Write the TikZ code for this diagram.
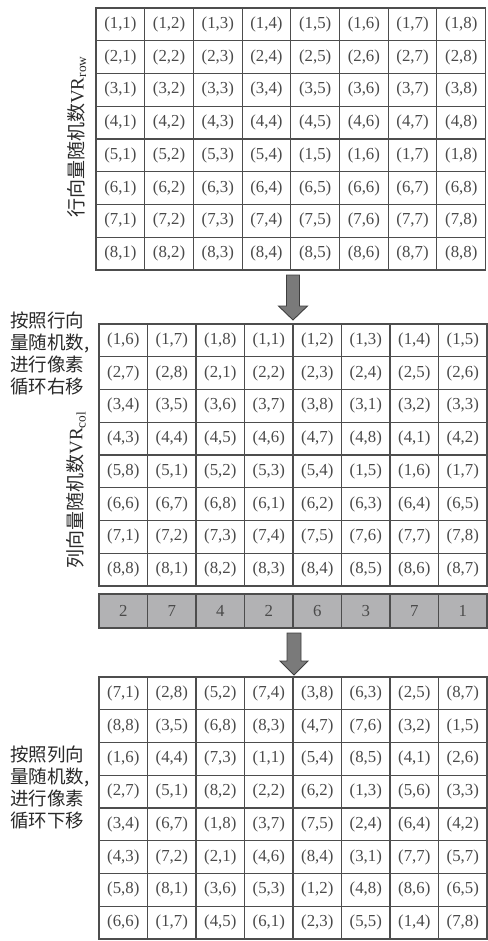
\documentclass[tikz,border=0pt]{standalone}
\usepackage{fontspec}
\setmainfont{Liberation Serif}
\newfontfamily\cjk{Noto Sans CJK SC}
\definecolor{gridline}{HTML}{4D4D4D}
\definecolor{celltext}{HTML}{4A4A4A}
\definecolor{numfill}{HTML}{B2B2B4}
\definecolor{arrowfill}{HTML}{7A7A7A}
\definecolor{labeltext}{HTML}{2A2A2A}
\begin{document}
\begin{tikzpicture}[x=1pt,y=-1pt,
  cell/.style={draw=gridline, line width=1.1pt, inner sep=0pt, outer sep=0pt,
    text=celltext, font=\fontsize{16.8}{17}\selectfont},
  numcell/.style={cell, fill=numfill},
  frame/.style={draw=gridline, line width=1.6pt},
  blockarrow/.style={draw=gridline!80!black, fill=arrowfill, line width=0.9pt, line join=miter},
  vlabel/.style={rotate=90, text=labeltext, inner sep=0pt, font=\fontsize{19}{19}\selectfont},
  sidetext/.style={align=left, anchor=west, inner sep=0pt, text=labeltext,
    font=\cjk\fontsize{18.5}{22}\selectfont}]
\useasboundingbox (0,0) rectangle (487,941);

% ---------- grid 1 ----------
\def\cwA{48.7}\def\chA{32.75}
\foreach \row [count=\r] in {
 {1/1,1/2,1/3,1/4,1/5,1/6,1/7,1/8},
 {2/1,2/2,2/3,2/4,2/5,2/6,2/7,2/8},
 {3/1,3/2,3/3,3/4,3/5,3/6,3/7,3/8},
 {4/1,4/2,4/3,4/4,4/5,4/6,4/7,4/8},
 {5/1,5/2,5/3,5/4,1/5,1/6,1/7,1/8},
 {6/1,6/2,6/3,6/4,6/5,6/6,6/7,6/8},
 {7/1,7/2,7/3,7/4,7/5,7/6,7/7,7/8},
 {8/1,8/2,8/3,8/4,8/5,8/6,8/7,8/8}}{
  \foreach \a/\b [count=\c] in \row {
    \node[cell, minimum width=\cwA pt, minimum height=\chA pt]
      (g1-\r-\c) at ({96+(\c-0.5)*\cwA},{8+(\r-0.5)*\chA}) {(\a,\b)};
  }
}
\draw[frame] (g1-1-1.north west) rectangle (g1-8-8.south east);

% ---------- grid 2 ----------
\def\cwB{48.5}\def\chB{32.75}
\foreach \row [count=\r] in {
 {1/6,1/7,1/8,1/1,1/2,1/3,1/4,1/5},
 {2/7,2/8,2/1,2/2,2/3,2/4,2/5,2/6},
 {3/4,3/5,3/6,3/7,3/8,3/1,3/2,3/3},
 {4/3,4/4,4/5,4/6,4/7,4/8,4/1,4/2},
 {5/8,5/1,5/2,5/3,5/4,1/5,1/6,1/7},
 {6/6,6/7,6/8,6/1,6/2,6/3,6/4,6/5},
 {7/1,7/2,7/3,7/4,7/5,7/6,7/7,7/8},
 {8/8,8/1,8/2,8/3,8/4,8/5,8/6,8/7}}{
  \foreach \a/\b [count=\c] in \row {
    \node[cell, minimum width=\cwB pt, minimum height=\chB pt]
      (g2-\r-\c) at ({99+(\c-0.5)*\cwB},{324+(\r-0.5)*\chB}) {(\a,\b)};
  }
}
\draw[frame] (g2-1-1.north west) rectangle (g2-8-8.south east);

% ---------- number row ----------
\foreach \n [count=\c] in {2,7,4,2,6,3,7,1} {
  \node[numcell, minimum width=\cwB pt, minimum height=34pt]
    (n-\c) at ({99+(\c-0.5)*\cwB},611) {\n};
}
\draw[frame] (n-1.north west) rectangle (n-8.south east);

% ---------- grid 3 ----------
\foreach \row [count=\r] in {
 {7/1,2/8,5/2,7/4,3/8,6/3,2/5,8/7},
 {8/8,3/5,6/8,8/3,4/7,7/6,3/2,1/5},
 {1/6,4/4,7/3,1/1,5/4,8/5,4/1,2/6},
 {2/7,5/1,8/2,2/2,6/2,1/3,5/6,3/3},
 {3/4,6/7,1/8,3/7,7/5,2/4,6/4,4/2},
 {4/3,7/2,2/1,4/6,8/4,3/1,7/7,5/7},
 {5/8,8/1,3/6,5/3,1/2,4/8,8/6,6/5},
 {6/6,1/7,4/5,6/1,2/3,5/5,1/4,7/8}}{
  \foreach \a/\b [count=\c] in \row {
    \node[cell, minimum width=\cwB pt, minimum height=\chB pt]
      (g3-\r-\c) at ({99+(\c-0.5)*\cwB},{677+(\r-0.5)*\chB}) {(\a,\b)};
  }
}
\draw[frame] (g3-1-1.north west) rectangle (g3-8-8.south east);

% ---------- block arrows ----------
\draw[blockarrow] (286.5,275) -- (299.5,275) -- (299.5,306) -- (307.5,306)
  -- (293,320) -- (278.5,306) -- (286.5,306) -- cycle;
\draw[blockarrow] (287,633) -- (301,633) -- (301,661) -- (308,661)
  -- (294,675) -- (280,661) -- (287,661) -- cycle;

% ---------- labels ----------
\node[vlabel] (lab1) at (77,137) {{\cjk 行向量随机数}VR\textsubscript{row}};
\node[vlabel] (lab2) at (76,490) {{\cjk 列向量随机数}VR\textsubscript{col}};
\node[sidetext] (txt1) at (10,353) {按照行向\\量随机数,\\进行像素\\循环右移};
\node[sidetext] (txt2) at (10,787) {按照列向\\量随机数,\\进行像素\\循环下移};
\end{tikzpicture}
\end{document}
